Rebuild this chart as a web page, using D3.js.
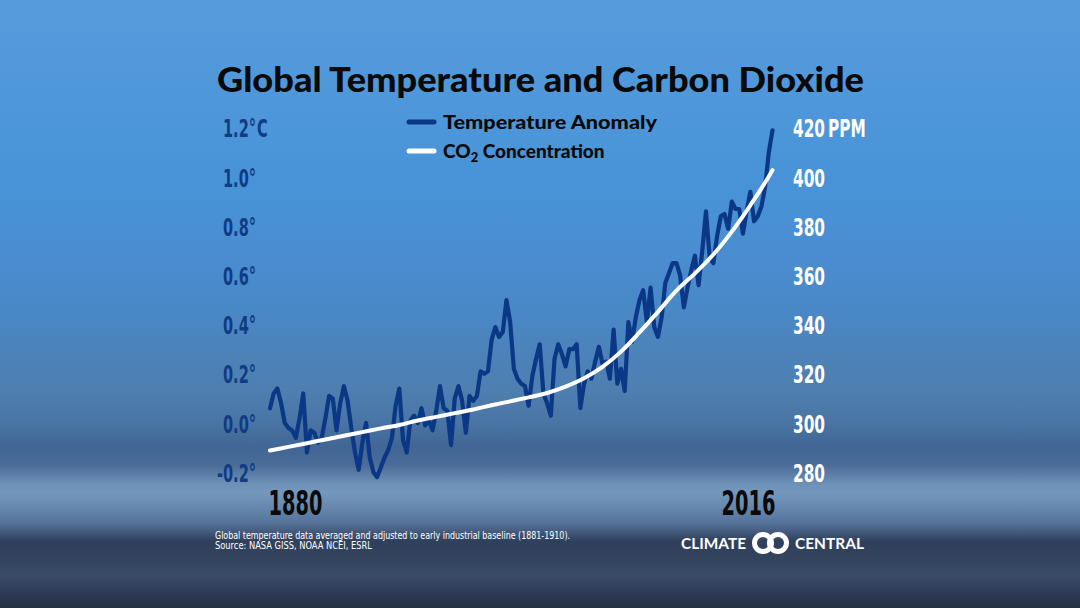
<!DOCTYPE html>
<html>
<head>
<meta charset="utf-8">
<script src="https://cdn.jsdelivr.net/npm/d3@7"></script>
<style>
  html, body { margin: 0; padding: 0; background: #2a3550; }
  svg { display: block; }
</style>
</head>
<body>
<script>
// Data
const years = d3.range(1880, 2017);

// temperature anomaly, °C vs 1881-1910
const tempValues = [
  0.06, 0.12, 0.14, 0.08, 0.00, -0.02, -0.03, -0.06, 0.02, 0.12,   // 1880s
  -0.12, -0.03, -0.04, -0.08, -0.06, 0.02, 0.11, 0.10, -0.03, 0.08, // 1890s
  0.15, 0.09, -0.02, -0.12, -0.19, -0.08, 0.00, -0.14, -0.20, -0.22, // 1900s
  -0.18, -0.14, -0.11, -0.06, 0.07, 0.14, -0.07, -0.12, 0.01, 0.03, // 1910s
  0.00, 0.06, -0.01, 0.01, -0.03, 0.05, 0.15, 0.06, 0.05, -0.09,    // 1920s
  0.10, 0.15, 0.09, -0.04, 0.11, 0.09, 0.11, 0.21, 0.20, 0.21,      // 1930s
  0.34, 0.39, 0.35, 0.37, 0.50, 0.41, 0.22, 0.18, 0.16, 0.15,       // 1940s
  0.07, 0.19, 0.26, 0.32, 0.12, 0.08, 0.03, 0.26, 0.32, 0.28,       // 1950s
  0.23, 0.30, 0.30, 0.32, 0.06, 0.16, 0.21, 0.18, 0.25, 0.31,       // 1960s
  0.24, 0.25, 0.18, 0.38, 0.16, 0.22, 0.13, 0.41, 0.33, 0.43,       // 1970s
  0.50, 0.54, 0.41, 0.55, 0.39, 0.35, 0.43, 0.57, 0.61, 0.65,       // 1980s
  0.65, 0.60, 0.47, 0.55, 0.62, 0.68, 0.56, 0.70, 0.86, 0.67,       // 1990s
  0.65, 0.76, 0.84, 0.85, 0.79, 0.90, 0.87, 0.87, 0.77, 0.86,       // 2000s
  0.94, 0.82, 0.84, 0.88, 0.96, 1.10, 1.19                          // 2010s
];

// CO2 concentration, ppm
const co2Years  = [1880, 1885, 1890, 1895, 1900, 1905, 1910, 1915, 1920, 1925,
                   1930, 1935, 1940, 1945, 1950, 1955, 1960, 1965, 1970, 1975,
                   1980, 1985, 1990, 1995, 2000, 2005, 2010, 2015, 2016];
const co2Values = [288.8, 290.3, 291.8, 293.3, 294.8, 296.3, 297.8, 299.2, 301.0, 302.5,
                   304.0, 305.5, 307.2, 308.8, 310.4, 312.2, 314.8, 318.2, 322.8, 329.0,
                   336.8, 345.2, 353.8, 360.8, 368.5, 377.8, 388.5, 400.2, 402.8];

// tick labels
const tempTicks = [-0.2, 0, 0.2, 0.4, 0.6, 0.8, 1.0, 1.2];
const co2Ticks = [280, 300, 320, 340, 360, 380, 400, 420];
const yearTicks = [1880, 2016];

// Dimensions
const W = 1080, H = 608;
const narrow = "'Liberation Sans Narrow', 'DejaVu Sans Condensed', 'Liberation Sans', sans-serif";
const heavy = "Lato, Inter, 'Open Sans', sans-serif";

const svg = d3.select("body")
  .append("svg")
  .attr("width", W)
  .attr("height", H);

// background
const grad = svg.append("defs").append("linearGradient")
  .attr("id", "bg").attr("x1", 0).attr("y1", 0).attr("x2", 0).attr("y2", 1);
[
  [0, "#569cdc"], [0.30, "#4893d8"], [0.42, "#4a8dd0"], [0.51, "#4988c6"],
  [0.58, "#4c82b9"], [0.64, "#4e7fb0"], [0.69, "#4a76a5"], [0.735, "#416696"],
  [0.765, "#4a6c97"], [0.795, "#6d90b6"], [0.81, "#7498bd"], [0.83, "#6a8bb1"],
  [0.86, "#56739a"], [0.89, "#2f405c"], [0.92, "#34445f"], [0.945, "#3a4c69"],
  [0.97, "#2f3d58"], [1, "#262f42"]
].forEach(s => grad.append("stop").attr("offset", s[0]).attr("stop-color", s[1]));
svg.append("rect").attr("width", W).attr("height", H).attr("fill", "url(#bg)");

// fit a text element to a given width
function fit(sel, w) {
  sel.attr("textLength", w).attr("lengthAdjust", "spacingAndGlyphs");
  return sel;
}

// Scales
const x = d3.scaleLinear().domain([1880, 2016]).range([270, 772.5]);
const yT = d3.scaleLinear().domain([-0.2, 1.2]).range([472.2, 127.8]);
const yC = d3.scaleLinear().domain([280, 420]).range([472.2, 127.8]);

// title
fit(svg.append("text")
  .attr("x", 217).attr("y", 92)
  .attr("font-family", heavy).attr("font-weight", 900).attr("font-size", 34)
  .attr("fill", "#0a0a0a")
  .text("Global Temperature and Carbon Dioxide"), 647);

// left axis
const leftAxis = svg.append("g")
  .attr("transform", "translate(256,0)")
  .call(d3.axisLeft(yT).tickValues(tempTicks).tickSize(0).tickPadding(0)
    .tickFormat(d => d3.format(".1f")(d).replace("\u2212", "-") + "°"));
leftAxis.select(".domain").remove();
leftAxis.selectAll("text")
  .attr("font-family", narrow).attr("font-weight", 700).attr("font-size", 25)
  .attr("fill", "#0f3c84").attr("dy", "0.36em");
const refL = leftAxis.selectAll("text").filter(d => d === 0).node().getComputedTextLength();
const sxL = 33 / refL;
leftAxis.selectAll("text").attr("transform", `scale(${sxL},1)`);
svg.append("text")
  .attr("transform", `translate(257,${yT(1.2)}) scale(${sxL},1)`)
  .attr("dy", "0.36em")
  .attr("font-family", narrow).attr("font-weight", 700).attr("font-size", 25)
  .attr("fill", "#0f3c84").text("C");

// right axis
const rightAxis = svg.append("g")
  .attr("transform", "translate(793,0)")
  .call(d3.axisRight(yC).tickValues(co2Ticks).tickSize(0).tickPadding(0));
rightAxis.select(".domain").remove();
rightAxis.selectAll("text")
  .attr("font-family", narrow).attr("font-weight", 700).attr("font-size", 25)
  .attr("fill", "#ffffff").attr("dy", "0.36em");
const refR = rightAxis.selectAll("text").filter(d => d === 400).node().getComputedTextLength();
const sxR = 32 / refR;
rightAxis.selectAll("text").attr("transform", `scale(${sxR},1)`);
svg.append("text")
  .attr("transform", `translate(828,${yC(420)}) scale(${sxR},1)`)
  .attr("dy", "0.36em")
  .attr("font-family", narrow).attr("font-weight", 700).attr("font-size", 25)
  .attr("fill", "#ffffff").text("PPM");

// bottom year labels
const bottomAxis = svg.append("g")
  .attr("transform", "translate(0,490)")
  .call(d3.axisBottom(x).tickValues(yearTicks).tickSize(0).tickPadding(0)
    .tickFormat(d3.format("d")));
bottomAxis.select(".domain").remove();
bottomAxis.selectAll("text")
  .attr("font-family", narrow).attr("font-weight", 700).attr("font-size", 34)
  .attr("fill", "#0a0a0a").attr("dy", "0.73em")
  .attr("text-anchor", d => d === 1880 ? "start" : "end")
  .attr("x", d => d === 1880 ? -2 : 2.5)
  .each(function() { fit(d3.select(this), 54); });

// lines
const tempLine = d3.line()
  .x((d, i) => x(years[i]))
  .y(d => yT(d));
const co2Line = d3.line()
  .x((d, i) => x(co2Years[i]))
  .y(d => yC(d))
  .curve(d3.curveMonotoneX);

svg.append("path")
  .datum(tempValues)
  .attr("d", tempLine)
  .attr("fill", "none")
  .attr("stroke", "#0b3886")
  .attr("stroke-width", 4.2)
  .attr("stroke-linejoin", "round")
  .attr("stroke-linecap", "round");

svg.append("path")
  .datum(co2Values)
  .attr("d", co2Line)
  .attr("fill", "none")
  .attr("stroke", "#ffffff")
  .attr("stroke-width", 4)
  .attr("stroke-linecap", "round");

// legend
const legend = svg.append("g");
legend.append("line")
  .attr("x1", 409).attr("x2", 434).attr("y1", 122).attr("y2", 122)
  .attr("stroke", "#0b3886").attr("stroke-width", 5).attr("stroke-linecap", "round");
legend.append("line")
  .attr("x1", 409).attr("x2", 434).attr("y1", 151).attr("y2", 151)
  .attr("stroke", "#ffffff").attr("stroke-width", 5).attr("stroke-linecap", "round");
fit(legend.append("text")
  .attr("x", 443).attr("y", 129)
  .attr("font-family", heavy).attr("font-weight", 900).attr("font-size", 19)
  .attr("fill", "#0a0a0a")
  .text("Temperature Anomaly"), 214);
const co2Label = legend.append("text")
  .attr("x", 443).attr("y", 158)
  .attr("font-family", heavy).attr("font-weight", 900).attr("font-size", 19)
  .attr("fill", "#0a0a0a");
co2Label.append("tspan").text("CO");
co2Label.append("tspan").attr("font-size", 13).attr("dy", 4).text("2");
co2Label.append("tspan").attr("dy", -4).text(" Concentration");

// footnote
const foot = svg.append("g")
  .attr("font-family", narrow).attr("font-size", 10).attr("fill", "#ffffff");
fit(foot.append("text").attr("x", 215).attr("y", 539)
  .text("Global temperature data averaged and adjusted to early industrial baseline (1881-1910)."), 355);
fit(foot.append("text").attr("x", 215).attr("y", 549)
  .text("Source: NASA GISS, NOAA NCEI, ESRL"), 157);

// logo
const logo = svg.append("g")
  .attr("font-family", heavy).attr("font-weight", 700).attr("font-size", 14.5)
  .attr("fill", "#ffffff");
fit(logo.append("text").attr("x", 681).attr("y", 548.5).text("CLIMATE"), 65);
fit(logo.append("text").attr("x", 795).attr("y", 548.5).text("CENTRAL"), 69);
logo.append("circle").attr("cx", 763).attr("cy", 543).attr("r", 8.5)
  .attr("fill", "none").attr("stroke", "#ffffff").attr("stroke-width", 5);
logo.append("circle").attr("cx", 778).attr("cy", 543).attr("r", 8.5)
  .attr("fill", "none").attr("stroke", "#ffffff").attr("stroke-width", 5);
</script>
</body>
</html>
